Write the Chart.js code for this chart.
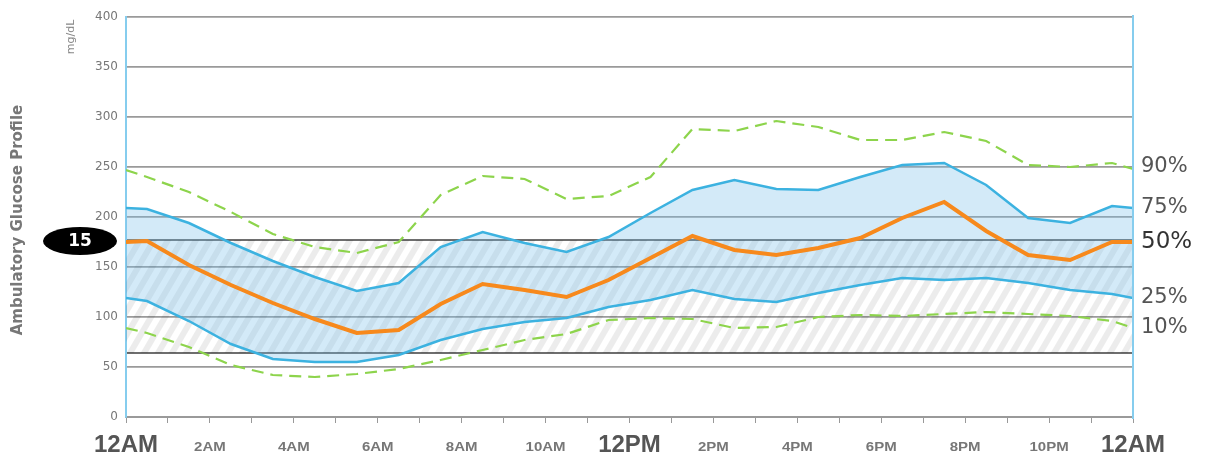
<!DOCTYPE html>
<html>
<head>
<meta charset="utf-8">
<script src="https://cdn.jsdelivr.net/npm/chart.js@4.4.1/dist/chart.umd.min.js"></script>
<style>
  html, body { margin: 0; padding: 0; background: #fff; }
  #wrap { width: 1207px; height: 456px; position: relative; }
</style>
</head>
<body>
<div id="wrap"><canvas id="agp" width="1207" height="456"></canvas></div>
<script>
// Hour of day for each profile sample (half-hour midpoints plus both ends)
const hours = [0, 0.5, 1.5, 2.5, 3.5, 4.5, 5.5, 6.5, 7.5, 8.5, 9.5, 10.5, 11.5,
               12.5, 13.5, 14.5, 15.5, 16.5, 17.5, 18.5, 19.5, 20.5, 21.5, 22.5, 23.5, 24];

// Glucose percentiles, mg/dL
const p90 = [247, 240, 225, 205, 183, 170, 164, 175, 222, 241, 238, 218, 221,
             240, 288, 286, 296, 290, 277, 277, 285, 276, 252, 250, 254, 248];
const p75 = [209, 208, 194, 174, 156, 140, 126, 134, 170, 185, 174, 165, 180,
             204, 227, 237, 228, 227, 240, 252, 254, 232, 199, 194, 211, 209];
const p50 = [175, 176, 152, 132, 114, 98, 84, 87, 113, 133, 127, 120, 137,
             159, 181, 167, 162, 169, 179, 199, 215, 186, 162, 157, 175, 175];
const p25 = [119, 116, 96, 73, 58, 55, 55, 62, 77, 88, 95, 99, 110,
             117, 127, 118, 115, 124, 132, 139, 137, 139, 134, 127, 123, 119];
const p10 = [89, 84, 70, 52, 42, 40, 43, 48, 57, 67, 77, 83, 97,
             99, 98, 89, 90, 100, 102, 101, 103, 105, 103, 101, 96, 89];

// Target glucose range (low, high), mg/dL
const targetRange = [64, 177];

// Axis ticks and labels
const yTicks = [0, 50, 100, 150, 200, 250, 300, 350, 400];
const xTickHours = [0, 2, 4, 6, 8, 10, 12, 14, 16, 18, 20, 22, 24];
const xTickLabels = ['12AM', '2AM', '4AM', '6AM', '8AM', '10AM', '12PM',
                     '2PM', '4PM', '6PM', '8PM', '10PM', '12AM'];
const majorHours = [0, 12, 24];
const bandLabels = ['90%', '75%', '50%', '25%', '10%'];
const unitLabel = 'mg/dL';
const profileTitle = 'Ambulatory Glucose Profile';
const patientBadge = '15';

const toPoints = arr => hours.map((h, i) => ({ x: h, y: arr[i] }));

// Diagonal hatch used for the target range band
function makeHatch() {
  const w = 14, h = 24;
  const c = document.createElement('canvas');
  c.width = w; c.height = h;
  const g = c.getContext('2d');
  g.strokeStyle = 'rgba(0,0,0,0.075)';
  g.lineWidth = 6;
  for (const ox of [-w, 0, w]) {
    g.beginPath();
    g.moveTo(ox - w * 0.5, h * 1.5);
    g.lineTo(ox + w * 1.5, -h * 0.5);
    g.stroke();
  }
  return g.createPattern(c, 'repeat');
}

const GREEN = '#8dd44c';
const BLUE = '#3cb2e0';
const ORANGE = '#f7891c';

function line(label, data, color, width, dash) {
  return {
    label, data: toPoints(data), borderColor: color, borderWidth: width,
    borderDash: dash || [], pointRadius: 0, tension: 0, fill: false
  };
}

const datasets = [
  line('90%', p90, GREEN, 2.2, [12, 7]),
  Object.assign(line('75%', p75, BLUE, 2.5), { fill: { target: 3 }, backgroundColor: 'rgba(120,190,235,0.33)' }),
  line('50%', p50, ORANGE, 4),
  line('25%', p25, BLUE, 2.5),
  line('10%', p10, GREEN, 2.2, [12, 7]),
  {
    label: 'target high', data: [{ x: 0, y: targetRange[1] }, { x: 24, y: targetRange[1] }],
    borderColor: 'transparent', borderWidth: 0, pointRadius: 0,
    fill: { target: 6 }, backgroundColor: makeHatch()
  },
  {
    label: 'target low', data: [{ x: 0, y: targetRange[0] }, { x: 24, y: targetRange[0] }],
    borderColor: 'transparent', borderWidth: 0, pointRadius: 0, fill: false
  }
];

const decorations = {
  id: 'agpDecorations',
  afterDraw(chart) {
    const ctx = chart.ctx;
    const xs = chart.scales.x, ys = chart.scales.y;
    const area = chart.chartArea;
    ctx.save();

    // right frame line
    ctx.strokeStyle = '#86cdee';
    ctx.lineWidth = 2;
    ctx.beginPath();
    ctx.moveTo(area.right, area.top - 2);
    ctx.lineTo(area.right, area.bottom + 2);
    ctx.stroke();

    // hour labels under the axis
    ctx.textAlign = 'center';
    ctx.textBaseline = 'alphabetic';
    xTickHours.forEach((h, i) => {
      const px = xs.getPixelForValue(h);
      if (majorHours.includes(h)) {
        ctx.fillStyle = '#555';
        ctx.font = 'bold 24px "Liberation Sans", Arial, sans-serif';
        ctx.fillText(xTickLabels[i], px, 452);
      } else {
        ctx.save();
        ctx.fillStyle = '#777';
        ctx.font = 'bold 12px "Liberation Sans", Arial, sans-serif';
        ctx.translate(px, 451);
        ctx.scale(1.25, 1);
        ctx.fillText(xTickLabels[i], 0, 0);
        ctx.restore();
      }
    });

    // percentile labels at the right end of each curve
    const ends = [p90, p75, p50, p25, p10].map(a => a[a.length - 1]);
    ctx.textAlign = 'left';
    ctx.textBaseline = 'middle';
    bandLabels.forEach((t, i) => {
      const py = ys.getPixelForValue(ends[i]);
      const isMedian = i === 2;
      ctx.fillStyle = isMedian ? '#333' : '#555';
      ctx.font = (isMedian ? '23px' : '21px') + ' "DejaVu Sans", sans-serif';
      ctx.fillText(t, area.right + 8, py - (i === 0 ? 2 : 0));
    });

    // unit label
    ctx.save();
    ctx.translate(71, 37);
    ctx.rotate(-Math.PI / 2);
    ctx.textAlign = 'center';
    ctx.fillStyle = '#888';
    ctx.font = '11px "DejaVu Sans", sans-serif';
    ctx.fillText(unitLabel, 0, 0);
    ctx.restore();

    // profile title
    ctx.save();
    ctx.translate(18, 220);
    ctx.rotate(-Math.PI / 2);
    ctx.textAlign = 'center';
    ctx.fillStyle = '#777';
    ctx.font = 'bold 15px "DejaVu Sans", sans-serif';
    ctx.fillText(profileTitle, 0, 0);
    ctx.restore();

    // patient badge on the target-high line
    const by = ys.getPixelForValue(targetRange[1]) + 1;
    ctx.fillStyle = '#000';
    ctx.beginPath();
    ctx.ellipse(80, by, 37, 14, 0, 0, Math.PI * 2);
    ctx.fill();
    ctx.fillStyle = '#fff';
    ctx.textAlign = 'center';
    ctx.font = 'bold 17px "DejaVu Sans", sans-serif';
    ctx.fillText(patientBadge, 80, by + 1);

    ctx.restore();
  }
};

new Chart(document.getElementById('agp'), {
  type: 'line',
  data: { datasets },
  options: {
    responsive: false,
    devicePixelRatio: 1,
    animation: false,
    layout: { padding: { top: 17, right: 74, left: 0, bottom: 0 } },
    plugins: {
      legend: { display: false },
      tooltip: { enabled: false },
      filler: { drawTime: 'beforeDatasetsDraw' }
    },
    scales: {
      x: {
        type: 'linear', min: 0, max: 24,
        ticks: { stepSize: 1, display: false },
        grid: { drawOnChartArea: false, drawTicks: true, tickLength: 6, color: '#999', lineWidth: 1 },
        border: { color: '#9a9a9a', width: 2 },
        afterFit(s) { s.height = 39; }
      },
      y: {
        min: 0, max: 400,
        afterBuildTicks(s) {
          s.ticks = [...yTicks, ...targetRange].sort((a, b) => a - b).map(v => ({ value: v }));
        },
        ticks: {
          autoSkip: false, padding: 8, color: '#777',
          font: { size: 12, family: '"DejaVu Sans", sans-serif' },
          callback: v => (yTicks.includes(v) ? String(v) : '')
        },
        grid: {
          drawTicks: false,
          color: c => (targetRange.includes(c.tick.value) ? '#6e6e6e' : '#9a9a9a'),
          lineWidth: c => (targetRange.includes(c.tick.value) ? 2 : 1.8)
        },
        border: { color: '#86cdee', width: 2 },
        afterFit(s) { s.width = 126; }
      }
    }
  },
  plugins: [decorations]
});
</script>
</body>
</html>
